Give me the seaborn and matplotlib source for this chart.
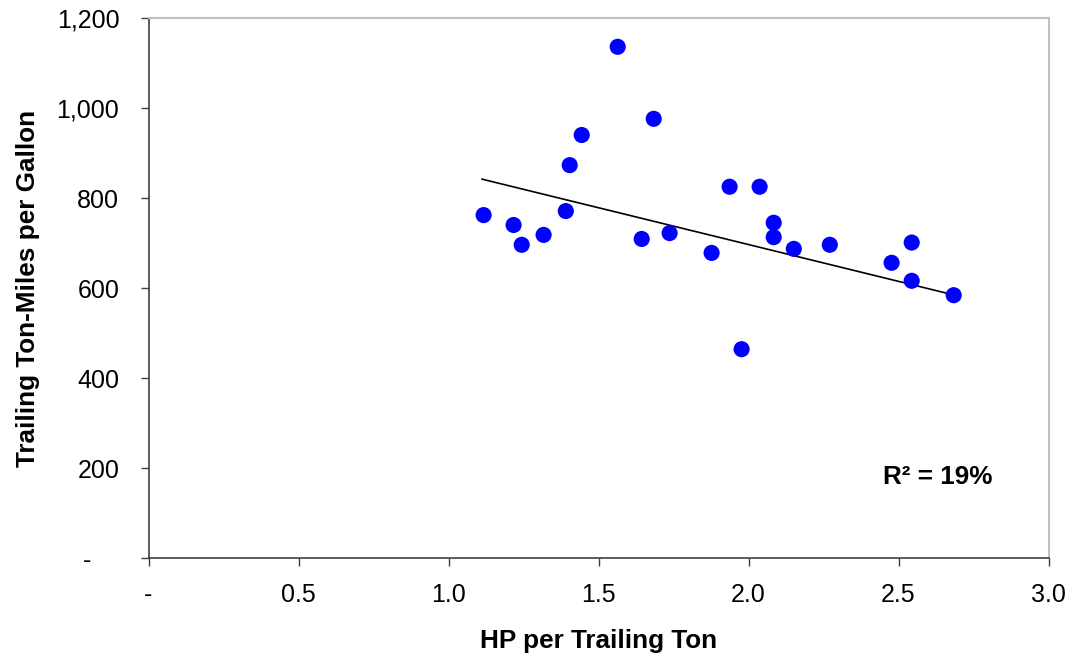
import matplotlib
matplotlib.use("Agg")
import matplotlib.pyplot as plt
import seaborn as sns
import numpy as np
import pandas as pd
from matplotlib.ticker import FuncFormatter

hp_per_ton = [1.117, 1.217, 1.244, 1.317, 1.391, 1.404, 1.444, 1.564, 1.644, 1.684,
              1.737, 1.877, 1.937, 1.977, 2.037, 2.084, 2.084, 2.151, 2.271, 2.477,
              2.544, 2.544, 2.684]
ton_miles_per_gal = [762, 740, 696, 718, 771, 873, 940, 1136, 709, 976,
                     722, 678, 825, 464, 825, 745, 713, 687, 696, 656,
                     701, 616, 584]
# linear trendline endpoints
trend_x = [1.111, 2.688]
trend_y = [842, 584]
x_ticks = [0, 0.5, 1.0, 1.5, 2.0, 2.5, 3.0]
y_ticks = [0, 200, 400, 600, 800, 1000, 1200]
r2_label = "R² = 19%"

df = pd.DataFrame({"hp": hp_per_ton, "tm": ton_miles_per_gal})
trend = pd.DataFrame({"hp": trend_x, "tm": trend_y})

sns.set_style("white")
plt.rcParams["font.family"] = ["Liberation Sans", "DejaVu Sans"]
plt.rcParams["text.color"] = "black"
plt.rcParams["axes.labelcolor"] = "black"

fig = plt.figure(figsize=(10.68, 6.56), dpi=100)
ax = fig.add_axes([148.5 / 1068, 1 - 558 / 656, 900 / 1068, 540 / 656])

sns.lineplot(data=trend, x="hp", y="tm", ax=ax, color="black", linewidth=1.2, zorder=2)
sns.scatterplot(data=df, x="hp", y="tm", ax=ax, s=135, color="#0000FF",
                edgecolor="none", linewidth=0, zorder=3)

ax.set_xlim(0, 3.0)
ax.set_ylim(0, 1200)
ax.set_xticks(x_ticks)
ax.set_yticks(y_ticks)
ax.xaxis.set_major_formatter(FuncFormatter(lambda v, p: "-" if abs(v) < 1e-9 else f"{v:.1f}"))
ax.yaxis.set_major_formatter(FuncFormatter(lambda v, p: "-    " if abs(v) < 1e-9 else f"{int(v):,}"))

ax.tick_params(axis="both", which="major", direction="out", length=6, width=1,
               color="#404040", labelsize=18, labelcolor="black", bottom=True, left=True)
ax.tick_params(axis="y", pad=15)
ax.tick_params(axis="x", pad=12)

for side in ["left", "bottom"]:
    ax.spines[side].set_color("#404040")
    ax.spines[side].set_linewidth(1.2)
for side in ["top", "right"]:
    ax.spines[side].set_color("#c0c0c0")
    ax.spines[side].set_linewidth(1.5)
    ax.spines[side].set_visible(True)

ax.set_xlabel("HP per Trailing Ton", fontsize=18.8, fontweight="bold", labelpad=16)
ax.set_ylabel("Trailing Ton-Miles per Gallon", fontsize=18.8, fontweight="bold", labelpad=12)

ax.text(2.448, 180, r2_label, fontsize=18.8, fontweight="bold", ha="left", va="center")

fig.savefig("out.png", dpi=100)
